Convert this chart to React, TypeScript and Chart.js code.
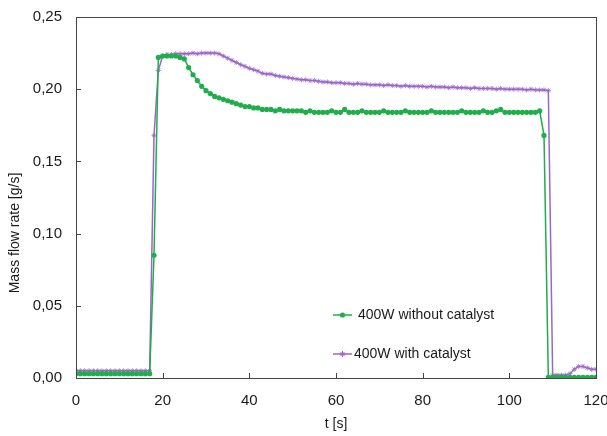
import React, { useEffect, useRef } from "react";
import { Chart, registerables } from "chart.js";

Chart.register(...registerables);

// time axis (s)
const TIMES: number[] = Array.from({ length: 121 }, (_, i) => i);

const GREEN_LABEL = "400W without catalyst";
const PURPLE_LABEL = "400W with catalyst";

// 400W without catalyst, t = 0..120
const GREEN_VALUES: number[] = [
  0.003, 0.003, 0.003, 0.003, 0.003, 0.003, 0.003, 0.003, 0.003, 0.003,
  0.003, 0.003, 0.003, 0.003, 0.003, 0.003, 0.003, 0.003,
  0.085, 0.222,
  0.223, 0.223, 0.223, 0.223, 0.222,
  0.221, 0.215, 0.21, 0.206, 0.202, 0.199, 0.197, 0.195, 0.194, 0.193,
  0.192, 0.191, 0.19, 0.189, 0.188, 0.188, 0.187, 0.187, 0.186, 0.186,
  0.186, 0.185, 0.186, 0.185, 0.185, 0.185, 0.185, 0.185, 0.184, 0.185,
  0.184, 0.184, 0.184, 0.184, 0.185, 0.184, 0.184, 0.186, 0.184, 0.184,
  0.184, 0.185, 0.184, 0.184, 0.184, 0.184, 0.185, 0.184, 0.184, 0.184,
  0.184, 0.185, 0.184, 0.184, 0.184, 0.184, 0.184, 0.185, 0.184, 0.184,
  0.184, 0.184, 0.184, 0.184, 0.185, 0.184, 0.184, 0.184, 0.184, 0.185,
  0.184, 0.184, 0.185, 0.186, 0.184, 0.184, 0.184, 0.184, 0.184, 0.184,
  0.184, 0.184, 0.185, 0.168,
  0.0005, 0.0005, 0.0005, 0.0005, 0.0005, 0.0005, 0.0005, 0.0005, 0.0005,
  0.0005, 0.0005, 0.0005,
];

// 400W with catalyst, t = 0..120
const PURPLE_VALUES: number[] = [
  0.005, 0.005, 0.005, 0.005, 0.005, 0.005, 0.005, 0.005, 0.005, 0.005,
  0.005, 0.005, 0.005, 0.005, 0.005, 0.005, 0.005, 0.005,
  0.168, 0.213,
  0.223, 0.224, 0.224, 0.2245, 0.2245, 0.2245, 0.2245, 0.225, 0.2245, 0.225,
  0.225, 0.225, 0.225, 0.2245, 0.223, 0.2215, 0.22, 0.2185, 0.217, 0.2158,
  0.2145, 0.2135, 0.2125, 0.211, 0.2105, 0.2105, 0.2095, 0.209, 0.2085, 0.208,
  0.2075, 0.207, 0.2065, 0.2065, 0.206, 0.206, 0.2055, 0.205, 0.205, 0.2045,
  0.2045, 0.2045, 0.204, 0.204, 0.2035, 0.204, 0.2035, 0.2035, 0.203, 0.203,
  0.203, 0.2025, 0.203, 0.2025, 0.2025, 0.202, 0.2025, 0.202, 0.202, 0.202,
  0.202, 0.2015, 0.202, 0.2015, 0.2015, 0.2015, 0.201, 0.2015, 0.201, 0.201,
  0.201, 0.2005, 0.201, 0.2005, 0.2005, 0.2005, 0.2005, 0.2, 0.2005, 0.2,
  0.2, 0.2, 0.2, 0.2, 0.1995, 0.2, 0.1995, 0.1995, 0.1995, 0.199,
  0.002, 0.002, 0.002, 0.002, 0.003, 0.006, 0.008, 0.008, 0.007, 0.006, 0.006,
];

const X_TICKS = [0, 20, 40, 60, 80, 100, 120];
const Y_TICKS = [0, 0.05, 0.1, 0.15, 0.2, 0.25];

const X_TITLE = "t [s]";
const Y_TITLE = "Mass flow rate [g/s]";

const GREEN = "#1fae4b";
const PURPLE = "#9a66c8";
const FONT = "Arial, 'Liberation Sans', sans-serif";
const TEXT = "#1a1a1a";
const AXIS = "#444";

const decoPlugin = {
  id: "deco",
  afterDraw(chart: any) {
    const { ctx, chartArea } = chart;
    const { left, right, top, bottom } = chartArea;
    const xs = chart.scales.x;
    const ys = chart.scales.y;
    ctx.save();
    // frame
    ctx.strokeStyle = AXIS;
    ctx.lineWidth = 1;
    ctx.strokeRect(Math.round(left) + 0.5, Math.round(top) + 0.5, Math.round(right - left), Math.round(bottom - top));
    // inward ticks
    ctx.beginPath();
    for (const v of X_TICKS) {
      const px = Math.round(xs.getPixelForValue(v)) + 0.5;
      ctx.moveTo(px, bottom);
      ctx.lineTo(px, bottom - 5);
    }
    for (const v of Y_TICKS) {
      const py = Math.round(ys.getPixelForValue(v)) + 0.5;
      ctx.moveTo(left, py);
      ctx.lineTo(left + 5, py);
    }
    ctx.stroke();

    // axis titles
    ctx.fillStyle = TEXT;
    ctx.font = `14px ${FONT}`;
    ctx.textAlign = "center";
    ctx.textBaseline = "middle";
    ctx.fillText(X_TITLE, (left + right) / 2, 424);
    ctx.save();
    ctx.translate(15, 233);
    ctx.rotate(-Math.PI / 2);
    ctx.fillText(Y_TITLE, 0, 0);
    ctx.restore();

    // legend
    const lx0 = left + 257;
    const lx1 = left + 276;
    const rows = [
      { y: top + 298, color: GREEN, label: GREEN_LABEL, tx: left + 282, style: "circle" },
      { y: top + 337, color: PURPLE, label: PURPLE_LABEL, tx: left + 278, style: "star" },
    ];
    for (const r of rows) {
      ctx.strokeStyle = r.color;
      ctx.lineWidth = 1.5;
      ctx.beginPath();
      ctx.moveTo(lx0, r.y);
      ctx.lineTo(lx1, r.y);
      ctx.stroke();
      const cx = (lx0 + lx1) / 2;
      if (r.style === "circle") {
        ctx.fillStyle = r.color;
        ctx.beginPath();
        ctx.arc(cx, r.y, 2.6, 0, Math.PI * 2);
        ctx.fill();
      } else {
        ctx.lineWidth = 1;
        ctx.beginPath();
        for (let k = 0; k < 4; k++) {
          const a = (k * Math.PI) / 4;
          ctx.moveTo(cx - 3 * Math.cos(a), r.y - 3 * Math.sin(a));
          ctx.lineTo(cx + 3 * Math.cos(a), r.y + 3 * Math.sin(a));
        }
        ctx.stroke();
      }
      ctx.fillStyle = TEXT;
      ctx.textAlign = "left";
      ctx.font = `14px ${FONT}`;
      ctx.fillText(r.label, r.tx, r.y);
    }
    ctx.restore();
  },
};

const zeroPad = (scale: any) => {
  scale.paddingTop = 0;
  scale.paddingBottom = 0;
  scale.paddingLeft = 0;
  scale.paddingRight = 0;
};

export default function App() {
  const canvasRef = useRef<HTMLCanvasElement | null>(null);

  useEffect(() => {
    document.body.style.margin = "0";
    const canvas = canvasRef.current;
    if (!canvas) return;
    const green = TIMES.map((t, i) => ({ x: t, y: GREEN_VALUES[i] }));
    const purple = TIMES.map((t, i) => ({ x: t, y: PURPLE_VALUES[i] }));
    const chart = new Chart(canvas, {
      type: "line",
      data: {
        datasets: [
          {
            label: GREEN_LABEL,
            data: green,
            borderColor: GREEN,
            backgroundColor: GREEN,
            borderWidth: 1.5,
            pointRadius: 2.6,
            pointStyle: "circle",
            pointBorderWidth: 0,
            tension: 0,
          },
          {
            label: PURPLE_LABEL,
            data: purple,
            borderColor: PURPLE,
            backgroundColor: PURPLE,
            borderWidth: 1.5,
            pointRadius: 2.5,
            pointStyle: "star",
            pointBorderWidth: 0.8,
            tension: 0,
          },
        ],
      },
      options: {
        responsive: false,
        animation: false,
        maintainAspectRatio: false,
        layout: { padding: { top: 17, right: 11, left: 0, bottom: 0 } },
        plugins: {
          legend: { display: false },
          tooltip: { enabled: false },
        },
        scales: {
          x: {
            type: "linear",
            min: 0,
            max: 120,
            afterBuildTicks: (scale: any) => {
              scale.ticks = X_TICKS.map((v) => ({ value: v }));
            },
            afterFit: (scale: any) => {
              scale.height = 58;
              zeroPad(scale);
            },
            grid: { display: false, drawTicks: false },
            border: { display: false },
            ticks: {
              padding: 14,
              maxRotation: 0,
              autoSkip: false,
              color: TEXT,
              font: { family: FONT, size: 15 },
              callback: (v: any) => String(v),
            },
          },
          y: {
            type: "linear",
            min: 0,
            max: 0.25,
            afterBuildTicks: (scale: any) => {
              scale.ticks = Y_TICKS.map((v) => ({ value: v }));
            },
            afterFit: (scale: any) => {
              scale.width = 76;
              zeroPad(scale);
            },
            grid: { display: false, drawTicks: false },
            border: { display: false },
            ticks: {
              padding: 14,
              autoSkip: false,
              color: TEXT,
              font: { family: FONT, size: 15 },
              callback: (v: any) => Number(v).toFixed(2).replace(".", ","),
            },
          },
        },
      },
      plugins: [decoPlugin],
    });
    return () => chart.destroy();
  }, []);

  return (
    <div style={{ width: 607, height: 436, background: "#fff" }}>
      <canvas ref={canvasRef} width={607} height={436} />
    </div>
  );
}
